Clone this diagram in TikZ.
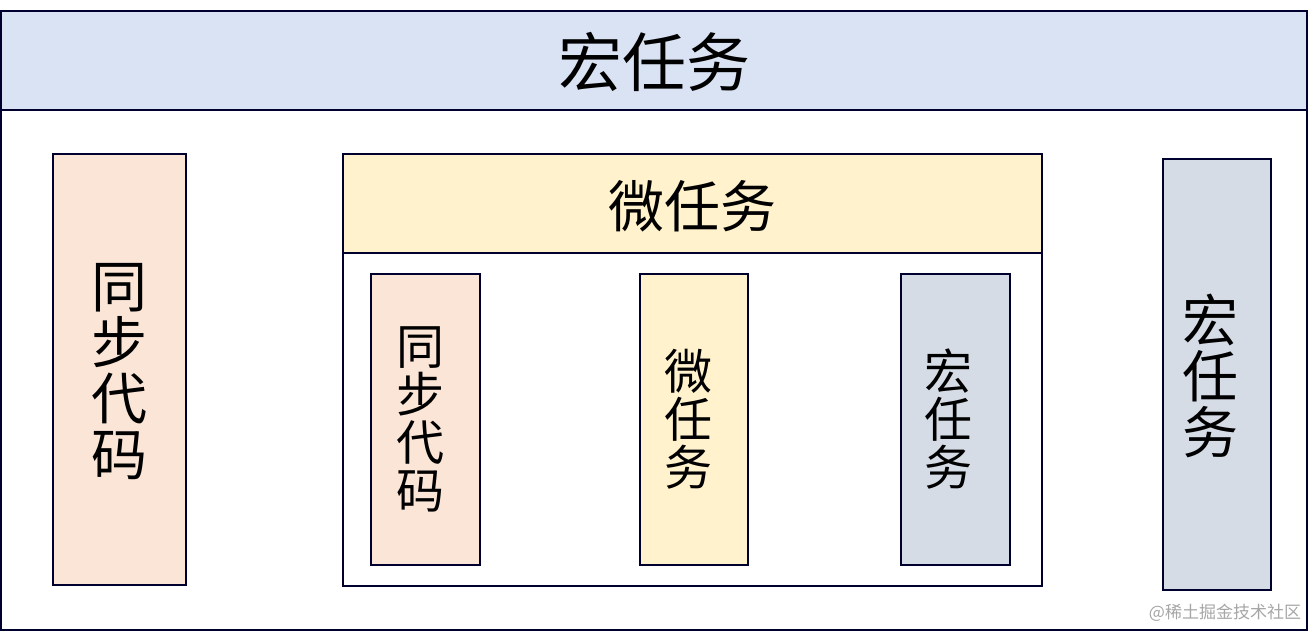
\documentclass[tikz,border=0pt]{standalone}
\usepackage{fontspec}
\newfontfamily\cjk{Noto Sans CJK SC}
\begin{document}
\begin{tikzpicture}[x=1pt,y=-1pt,
  bx/.style={draw=black!70!blue!60!black, line width=1.6pt},
  lab/.style={align=center, inner sep=0pt},
  fs/.style={font=\cjk\fontsize{#1}{#1}\selectfont}]
\definecolor{bl}{HTML}{DAE3F3}\definecolor{pk}{HTML}{FBE5D6}
\definecolor{yl}{HTML}{FFF2CC}\definecolor{gr}{HTML}{D6DCE5}
\useasboundingbox (0,0) rectangle (1309,631);
\draw[bx,fill=white] (1,11) rectangle (1307,630);
\draw[bx,fill=bl] (1,11) rectangle (1307,110);
\node[lab,fs=64] (t) at (654,62) {宏任务};
\draw[bx,fill=pk] (53,154) rectangle (186,585);
\node[lab,fs=56] (a) at (119.5,372) {同\\步\\代\\码};
\draw[bx,fill=white] (343,154) rectangle (1042,586);
\draw[bx,fill=yl] (343,154) rectangle (1042,253);
\node[lab,fs=56] (m) at (692,206) {微任务};
\draw[bx,fill=pk] (371,274) rectangle (480,565);
\node[lab,fs=48] (b) at (420,419) {同\\步\\代\\码};
\draw[bx,fill=yl] (640,274) rectangle (748,565);
\node[lab,fs=48] (c) at (688,419) {微\\任\\务};
\draw[bx,fill=gr] (901,274) rectangle (1010,565);
\node[lab,fs=48] (d) at (948,419) {宏\\任\\务};
\draw[bx,fill=gr] (1163,159) rectangle (1271,590);
\node[lab,fs=56] (e) at (1210,376) {宏\\任\\务};
\node[lab,fs=17,text=gray!70] (w) at (1225,613) {@稀土掘金技术社区};
\end{tikzpicture}
\end{document}
